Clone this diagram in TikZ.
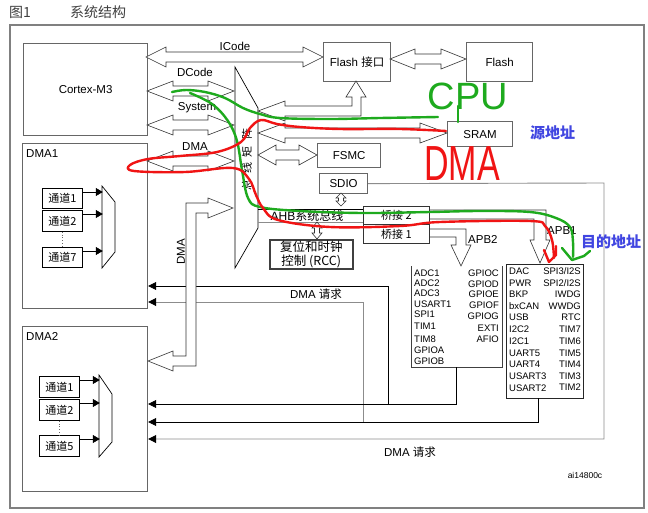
\documentclass[tikz,border=0pt]{standalone}
\usepackage{fontspec}
\setmainfont{Liberation Sans}
\newfontfamily\cjk{Noto Sans CJK SC}
\usetikzlibrary{arrows.meta,calc}
\newcommand{\zhtxt}[1]{{\cjk #1}}
% horizontal double hollow arrow: xl, xr, y, head length
\newcommand{\hdarrow}[4]{%
  \draw[blk] (#1,#3) -- ({#1+#4},{#3-10}) -- ({#1+#4},{#3-5}) -- ({#2-#4},{#3-5}) -- ({#2-#4},{#3-10}) -- (#2,#3) -- ({#2-#4},{#3+10}) -- ({#2-#4},{#3+5}) -- ({#1+#4},{#3+5}) -- ({#1+#4},{#3+10}) -- cycle;}
% vertical small double hollow arrow: x, ytop, ybottom, head length
\newcommand{\vdarrow}[4]{%
  \draw[blk] (#1,#2) -- ({#1+5},{#2+#4}) -- ({#1+2.5},{#2+#4}) -- ({#1+2.5},{#3-#4}) -- ({#1+5},{#3-#4}) -- (#1,#3) -- ({#1-5},{#3-#4}) -- ({#1-2.5},{#3-#4}) -- ({#1-2.5},{#2+#4}) -- ({#1-5},{#2+#4}) -- cycle;}
\definecolor{hgreen}{RGB}{30,170,30}
\definecolor{hred}{RGB}{240,20,20}
\definecolor{lblue}{RGB}{65,70,225}
\begin{document}
\begin{tikzpicture}[x=1pt,y=-1pt,
  font=\fontsize{11.5}{13}\selectfont,
  frame/.style={draw=black!50, line width=1.3pt},
  box/.style={draw=black!60, line width=1.2pt, inner sep=0pt, anchor=north west},
  cbox/.style={draw=black, line width=0.8pt, inner sep=0pt, anchor=north west, font=\cjk\fontsize{11}{12}\selectfont},
  ln/.style={draw=black, line width=0.7pt},
  gln/.style={draw=black!45, line width=0.9pt},
  blk/.style={draw=black!80, line width=0.6pt, fill=white},
  req/.style={ln, -{Triangle[length=8pt,width=8pt,color=black]}},
  greq/.style={gln, -{Triangle[length=8pt,width=8pt,color=black]}},
  chan/.style={draw=black, line width=0.7pt, -{Triangle[length=7pt,width=8pt]}},
  mux/.style={draw=black, line width=0.7pt, fill=white},
  per/.style={font=\fontsize{9.5}{10}\selectfont, inner sep=0pt},
  hand/.style={line width=2.4pt, line cap=round, line join=round}
]
\useasboundingbox (0,0) rectangle (648,512);
\fill[white] (0,0) rectangle (648,512);

% title
\node[anchor=west, text=black!75, font=\cjk\fontsize{14}{16}\selectfont, inner sep=0pt] (fig) at (9,12) {图1};
\node[anchor=west, text=black!75, font=\cjk\fontsize{14}{16}\selectfont, inner sep=0pt] (ttl) at (70,12) {系统结构};

% outer frame
\draw[frame] (10,25) rectangle (644,508);

% main boxes
\node[box, minimum width=124pt, minimum height=92pt] (cortex) at (23,43) {Cortex-M3};
\node[box, minimum width=125pt, minimum height=165pt] (dma1) at (22,143) {};
\node[anchor=north west, inner sep=0pt] (dma1l) at (26,149) {DMA1};
\node[box, minimum width=125pt, minimum height=165pt] (dma2) at (22,326) {};
\node[anchor=north west, inner sep=0pt] (dma2l) at (26,332) {DMA2};

% DMA1 channels
\node[cbox, minimum width=40pt, minimum height=20pt] (a1) at (42,188) {通道1};
\node[cbox, minimum width=40pt, minimum height=21pt] (a2) at (42,210) {通道2};
\node[cbox, minimum width=40pt, minimum height=20pt] (a7) at (42,247) {通道7};
\draw[black!60, dotted, line width=0.8pt] (a2.south) -- (a7.north);
\draw[mux] (102,186) -- (115,202) -- (115,252) -- (102,268) -- cycle;
\draw[chan] ($(a1.north east)+(0,4)$) -- ++(20,0);
\draw[chan] ($(a2.north east)+(0,4)$) -- ++(20,0);
\draw[chan] ($(a7.north east)+(0,4)$) -- ++(20,0);

% DMA2 channels
\node[cbox, minimum width=40pt, minimum height=21pt] (b1) at (39,376) {通道1};
\node[cbox, minimum width=40pt, minimum height=21pt] (b2) at (39,399) {通道2};
\node[cbox, minimum width=40pt, minimum height=21pt] (b5) at (39,435) {通道5};
\draw[black!60, dotted, line width=0.8pt] (b2.south) -- (b5.north);
\draw[mux] (99,375) -- (112,394) -- (112,442) -- (99,457) -- cycle;
\draw[chan] ($(b1.north east)+(0,4)$) -- ++(20,0);
\draw[chan] ($(b2.north east)+(0,4)$) -- ++(20,0);
\draw[chan] ($(b5.north east)+(0,4)$) -- ++(20,0);

% memories and peripherals
\node[box, minimum width=67pt, minimum height=39pt] (flashif) at (323,42) {Flash \zhtxt{接口}};
\node[box, minimum width=66pt, minimum height=39pt] (flash) at (466,42) {Flash};
\node[box, minimum width=65pt, minimum height=25pt] (sram) at (447,121) {SRAM};
\node[box, minimum width=63pt, minimum height=24pt] (fsmc) at (317,143) {FSMC};
\node[box, minimum width=48pt, minimum height=20pt] (sdio) at (319,173) {SDIO};
\node[box, draw=black!80, line width=0.8pt, minimum width=66pt, minimum height=18pt, font=\cjk\fontsize{11}{12}\selectfont] (br2) at (363,206) {桥接 2};
\node[box, draw=black!80, line width=0.8pt, minimum width=66pt, minimum height=19pt, font=\cjk\fontsize{11}{12}\selectfont] (br1) at (363,224) {桥接 1};
\node[box, draw=black!75, line width=1.6pt, minimum width=83pt, minimum height=29pt, align=center, font=\cjk\fontsize{12.5}{14}\selectfont] (rcc) at (269,239) {复位和时钟\\控制 (RCC)};

% bus matrix
\draw[draw=black, line width=0.7pt, fill=white] (235,67) -- (258,108) -- (258,228) -- (235,268) -- cycle;
\foreach \c/\yy in {阵/134, 矩/152, 线/168, 总/185}
  \node[rotate=90, font=\cjk\fontsize{11}{12}\selectfont, inner sep=0pt] at (247,\yy) {\c};

% Cortex / DMA buses
\hdarrow{146}{323}{57}{20}
\node[inner sep=0pt] (icode) at (235,46) {ICode};
\hdarrow{147}{234}{91}{26}
\node[inner sep=0pt] (dcode) at (195,72) {DCode};
\hdarrow{147}{234}{125}{26}
\node[inner sep=0pt] (sysl) at (197,108) {System};
\hdarrow{147}{234}{161}{26}
\node[inner sep=0pt] (dmal) at (195,147) {DMA};

% bus matrix to flash interface (L-shaped)
\draw[blk] (258,111) -- (285,101) -- (285,106) -- (352,106) -- (352,97) -- (346,97) -- (356,81) -- (366,97) -- (361,97) -- (361,116) -- (285,116) -- (285,121) -- cycle;
% flash interface <-> flash
\hdarrow{390}{466}{59}{25}
% bus matrix <-> SRAM
\hdarrow{258}{447}{133}{27}
% bus matrix <-> FSMC
\hdarrow{258}{317}{155}{18}

% AHB bus
\draw[ln] (258,209) -- (br2.west |- 0,209);
\draw[gln] (258,222) -- (br2.west |- 0,222);
\node[inner sep=0pt, font=\fontsize{12}{13}\selectfont] (ahb) at (307,216) {AHB\zhtxt{系统总线}};
\vdarrow{341}{193}{206}{5}
\vdarrow{317}{222}{239}{6}

% bridges to APB buses
\draw[blk, fill=none] (429,210) -- (546,210) -- (546,240) -- (550,240) -- (540,263) -- (530,240) -- (534,240) -- (534,219) -- (429,219);
\node[anchor=west, inner sep=0pt] (apb1l) at (547,231) {APB1};
\draw[blk, fill=none] (429,229) -- (466,229) -- (466,245) -- (471,245) -- (461,266) -- (451,245) -- (456,245) -- (456,237) -- (429,237);
\node[anchor=west, inner sep=0pt] (apb2l) at (468,239) {APB2};

% APB2 peripheral group
\draw[draw=black!75, line width=0.9pt] (411,266) -- (411,367) -- (502,367) -- (502,266);
\foreach \t/\yy in {ADC1/273, ADC2/283, ADC3/293, USART1/304, SPI1/314, TIM1/326, TIM8/339, GPIOA/350, GPIOB/361}
  \node[per, anchor=west] at (414,\yy) {\t};
\foreach \t/\yy in {GPIOC/273, GPIOD/284, GPIOE/294, GPIOF/305, GPIOG/316, EXTI/328, AFIO/339}
  \node[per, anchor=east] at (499,\yy) {\t};

% APB1 peripheral group
\node[box, draw=black!85, line width=1.1pt, minimum width=77pt, minimum height=134pt] (apb1) at (506,264) {};
\foreach \t/\yy in {DAC/271, PWR/283, BKP/294, bxCAN/306, USB/317, I2C2/329, I2C1/341, UART5/353, UART4/364, USART3/376, USART2/388}
  \node[per, anchor=west] at (509,\yy) {\t};
\foreach \yy/\t in {271/SPI3\slash I2S, 283/SPI2\slash I2S, 294/IWDG, 306/WWDG, 317/RTC, 329/TIM7, 341/TIM6, 353/TIM5, 364/TIM4, 376/TIM3, 387/TIM2}
  \node[per, anchor=east] at (581,\yy) {\t};

% DMA request lines
\draw[req] (388,404) |- (dma1.east |- 0,286);
\draw[greq] (363,422) |- (dma1.east |- 0,302);
\draw[req] (456,367) |- (dma2.east |- 0,404);
\draw[req] (538,398) |- (dma2.east |- 0,422);
\draw[greq] (sdio.east) -- (604,183) -- (604,439) -- (dma2.east |- 0,439);
\node[inner sep=0pt] (req1) at (316,294) {DMA \zhtxt{请求}};
\node[inner sep=0pt] (req2) at (410,452) {DMA \zhtxt{请求}};

% DMA L-shaped bus to DMA2
\draw[blk] (233,208) -- (208,198) -- (208,203) -- (186,203) -- (186,356) -- (173,356) -- (173,351) -- (148,361) -- (173,371) -- (173,366) -- (196,366) -- (196,213) -- (208,213) -- (208,218) -- cycle;
\node[rotate=90, inner sep=0pt] (dmav) at (181,252) {DMA};

\node[inner sep=0pt, font=\fontsize{8.5}{9}\selectfont] (ai) at (585,475) {ai14800c};

% blue annotations
\node[anchor=west, inner sep=0pt, text=lblue, font=\cjk\bfseries\fontsize{15}{16}\selectfont] (src) at (530,133) {源地址};
\node[anchor=west, inner sep=0pt, text=lblue, font=\cjk\bfseries\fontsize{15}{16}\selectfont] (dst) at (581,242) {目的地址};

% hand-drawn paths
\draw[hand, hgreen] plot[smooth, tension=0.6] coordinates {(172,92) (186,90) (205,92) (225,98) (243,108) (260,114) (280,118) (330,119) (380,118) (438,117)};
\draw[hand, hgreen] plot[smooth, tension=0.6] coordinates {(190,93) (212,104) (228,121) (237,141) (242,170) (248,198) (260,207) (300,211) (363,213) (430,212) (480,211) (530,212) (556,218) (570,227) (573,242) (573,257)};
\draw[hand, hgreen] (562,248) -- (572,260) -- (584,256) -- (590,251);
\draw[hand, hgreen] (458,106) -- (458,122);
\draw[hand, hred] plot[smooth, tension=0.6] coordinates {(446,131) (400,129) (340,129) (300,127) (277,124) (261,120) (250,128) (241,142) (217,152) (180,156) (148,159) (130,165) (134,171) (185,172) (233,168) (249,179) (256,195) (263,208) (278,220) (330,227) (400,226) (440,222) (530,221) (545,226) (552,240) (554,258)};
\draw[hand, hred] (544,250) -- (549,262) -- (556,255) -- (556,246);

\node[inner sep=0pt, text=hgreen, font=\fontsize{38}{40}\selectfont] (cpu) at (468,96) {CPU};
\node[inner sep=0pt, text=hred, font=\fontsize{34}{36}\selectfont] (dmah) at (462,164) {\scalebox{1}[1.45]{DMA}};
\end{tikzpicture}
\end{document}
